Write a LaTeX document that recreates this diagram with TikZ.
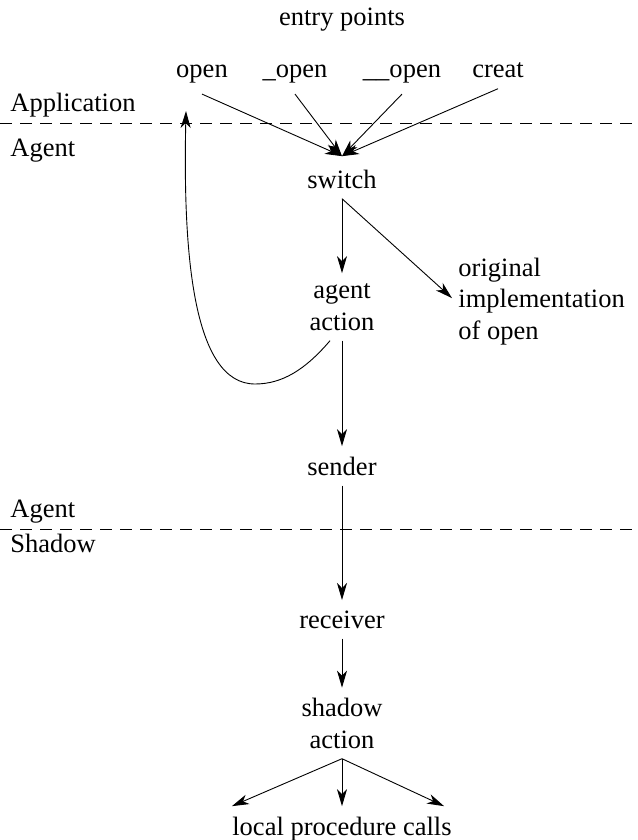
\documentclass[tikz,border=0pt]{standalone}
\usepackage{fontspec}
\setmainfont{Liberation Serif}
\usetikzlibrary{arrows.meta}
\begin{document}
\begin{tikzpicture}[x=1pt, y=-1pt, line width=0.9pt,
  >={Stealth[length=17pt, width=10pt, inset=5pt]},
  lbl/.style={anchor=base, inner xsep=0pt, inner ysep=10pt,
    font=\fontsize{26.5}{31.5}\selectfont},
  layer/.style={lbl, anchor=base west},
  sep/.style={dash pattern=on 12pt off 8pt}]

  \useasboundingbox (0,0) rectangle (637,840);

  % -- Layer borders --
  \draw[sep] (0,123) -- (637,123);
  \draw[sep] (0,529) -- (637,529);
  \node[layer] (app) at (10,112) {Application};
  \node[layer] (agtop) at (10,157) {Agent};
  \node[layer] (agbot) at (10,517) {Agent};
  \node[layer] (shad) at (10,552) {Shadow};

  % -- Entry points --
  \node[lbl] (entry) at (342,26) {entry points};
  \node[lbl] (open) at (202,78) {open};
  \node[lbl] (uopen) at (295,78) {\_open};
  \node[lbl] (uuopen) at (402,78) {\_\_open};
  \node[lbl] (creat) at (498,78) {creat};

  % -- Agent side (base = last line) --
  \node[lbl] (switch) at (342,188) {switch};
  \coordinate (hub) at ([yshift=3pt]switch.north);
  \node[lbl, align=center] (agent) at (342,330) {agent\\action};
  \node[lbl, anchor=base west, align=left] (orig) at (458,339) {original\\implementation\\of open};
  \node[lbl] (sender) at (342,475) {sender};

  % -- Shadow side --
  \node[lbl] (receiver) at (342,628) {receiver};
  \node[lbl, align=center] (shadow) at (342,748) {shadow\\action};
  \node[lbl] (calls) at (342,835) {local procedure calls};

  % -- Calls into the switch --
  \draw[->] (open.south) -- (hub);
  \draw[->] (uopen.south) -- (hub);
  \draw[->] (uuopen.south) -- (hub);
  \draw[->] (creat.south) -- (hub);

  % -- Dispatch --
  \draw[->] (switch.south) -- (agent.north);
  \draw[->] (switch.south) -- ([xshift=-6pt, yshift=3pt]orig.west);

  % -- Return to the application --
  \coordinate (ret) at (186,111);
  \draw[->] ([xshift=-12pt]agent.south) .. controls (305,370) and (282,384) .. (255,384)
    .. controls (192,384) and (183,250) .. (ret);

  % -- Down the chain --
  \draw[->] (agent.south) -- (sender.north);
  \draw[->] (sender.south) -- (receiver.north);
  \draw[->] (receiver.south) -- (shadow.north);

  % -- Local calls --
  \draw[->] (shadow.south) -- (calls.north west);
  \draw[->] (shadow.south) -- (calls.north);
  \draw[->] (shadow.south) -- ([xshift=-8pt]calls.north east);

\end{tikzpicture}
\end{document}
